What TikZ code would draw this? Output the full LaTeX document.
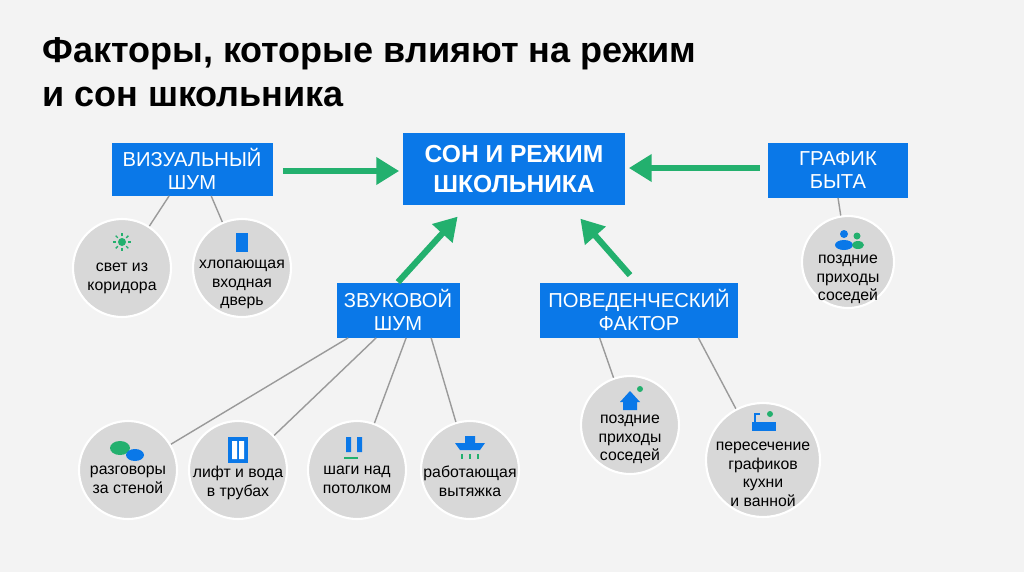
\documentclass[tikz,border=0pt]{standalone}
\usepackage{fontspec}
\setmainfont{Liberation Sans}
\usetikzlibrary{positioning,arrows.meta}
\definecolor{boxblue}{HTML}{0A78E8}
\definecolor{arrgreen}{HTML}{23B06E}
\definecolor{bg}{HTML}{F3F3F3}
\definecolor{circfill}{HTML}{D8D8D8}
\definecolor{lnk}{HTML}{9A9A9A}
\begin{document}
\begin{tikzpicture}[x=0.02cm,y=-0.02cm,
    box/.style={rectangle,fill=boxblue,text=white,align=center,font=\fontsize{11.5}{13}\selectfont,inner sep=0pt},
    main box/.style={box,font=\fontsize{14}{17}\selectfont\bfseries},
    factor/.style={circle,fill=circfill,draw=white,line width=1.2pt,minimum size=98*0.02cm,inner sep=0pt},
    caption/.style={align=center,font=\fontsize{9}{10.5}\selectfont,inner sep=0pt,anchor=north},
    link/.style={lnk,line width=0.8pt},
    push/.style={arrgreen,line width=3.5pt,-{Triangle[length=13pt,width=15pt]},shorten >=2pt},
    icon/.style={fill=boxblue,draw=none}]
  \fill[bg] (0,0) rectangle (1024,572);
  \useasboundingbox (0,0) rectangle (1024,572);
  % title
  \node[anchor=north west,align=left,inner sep=0pt,font=\fontsize{20.5}{25}\selectfont\bfseries] (title) at (42,37)
    {Факторы, которые влияют на режим\\и сон школьника};
  % boxes
  \node[main box,minimum width=222*0.02cm,minimum height=72*0.02cm] (sleep) at (514,169) {СОН И РЕЖИМ\\ШКОЛЬНИКА};
  \node[box,minimum width=161*0.02cm,minimum height=53*0.02cm] (visual) at (192,169) {ВИЗУАЛЬНЫЙ\\ШУМ};
  \node[box,minimum width=140*0.02cm,minimum height=55*0.02cm] (life) at (838,170) {ГРАФИК\\БЫТА};
  \node[box,minimum width=123*0.02cm,minimum height=55*0.02cm] (sound) at (398,310) {ЗВУКОВОЙ\\ШУМ};
  \node[box,minimum width=198*0.02cm,minimum height=55*0.02cm] (behav) at (639,310) {ПОВЕДЕНЧЕСКИЙ\\ФАКТОР};
  % arrows
  \draw[push] (visual.east) ++(10,2) coordinate (va) -- (sleep.west|-va);
  \draw[push] (life.west) ++(-8,-2) coordinate (la) -- (sleep.east|-la);
  \draw[push] (sound.north) -- (460,214);
  \draw[push] (behav.north) ++(-9,-7) coordinate (ba) -- (578,216);
  % circles
  \node[factor] (light) at (122,268) {};
  \node[factor] (door) at (242,268) {};
  \node[factor,minimum size=92*0.02cm] (late1) at (848,262) {};
  \node[factor] (talk) at (128,470) {};
  \node[factor] (lift) at (238,470) {};
  \node[factor] (steps) at (357,470) {};
  \node[factor] (hood) at (470,470) {};
  \node[factor] (late2) at (630,425) {};
  \node[factor,minimum size=114*0.02cm] (cross) at (763,460) {};
  \node[caption] at (122,263) {свет из\\коридора};
  \node[caption] at (242,260) {хлопающая\\входная\\дверь};
  \node[caption] at (848,255) {поздние\\приходы\\соседей};
  \node[caption] at (128,466) {разговоры\\за стеной};
  \node[caption] at (238,466) {лифт и вода\\в трубах};
  \node[caption] at (357,466) {шаги над\\потолком};
  \node[caption] at (470,466) {работающая\\вытяжка};
  \node[caption] at (630,415) {поздние\\приходы\\соседей};
  \node[caption] at (763,442) {пересечение\\графиков\\кухни\\и ванной};
  % links
  \draw[link] (visual.south west) ++(58,0) -- (light);
  \draw[link] (visual.south west) ++(100,0) -- (door);
  \draw[link] (life.south) -- (late1);
  \draw[link] (sound.south west) ++(12,0) -- (talk);
  \draw[link] (sound.south west) ++(40,0) -- (lift);
  \draw[link] (sound.south west) ++(70,0) -- (steps);
  \draw[link] (sound.south west) ++(95,0) -- (hood);
  \draw[link] (behav.south west) ++(60,0) -- (late2);
  \draw[link] (behav.south east) ++(-40,0) -- (cross);
  % icons
  \fill[arrgreen] (122,242) circle (4);
  \foreach \a in {0,45,...,315} \draw[arrgreen,line width=0.8pt] (122,242) ++(\a:6) -- ++(\a:3);
  \fill[icon] (236,233) rectangle (248,252);
  \fill[icon] (844,234) circle (4) (844,245) ellipse (9 and 5);
  \fill[arrgreen] (857,236) circle (3.5) (858,245) ellipse (6 and 4);
  \fill[arrgreen] (120,448) ellipse (10 and 7);
  \fill[icon] (135,455) ellipse (9 and 6);
  \fill[icon] (228,437) rectangle (248,463);
  \fill[white] (232,441) rectangle (237,459) (239,441) rectangle (244,459);
  \fill[icon] (346,437) rectangle (351,452) (357,437) rectangle (362,452);
  \draw[arrgreen,line width=1pt] (344,458) -- (358,458);
  \fill[icon] (465,436) rectangle (475,443) (455,443) -- (485,443) -- (480,450) -- (460,450) -- cycle;
  \draw[arrgreen,line width=0.8pt] (462,454) -- (462,459) (470,454) -- (470,459) (478,454) -- (478,459);
  \fill[icon] (620,402) -- (630,391) -- (640,402) -- (637,402) -- (637,410) -- (623,410) -- (623,402) -- cycle;
  \fill[arrgreen] (640,389) circle (3);
  \fill[icon] (752,422) rectangle (776,431);
  \draw[boxblue,line width=1pt] (755,422) -- (755,414) -- (760,414);
  \fill[arrgreen] (770,414) circle (3);
\end{tikzpicture}
\end{document}
